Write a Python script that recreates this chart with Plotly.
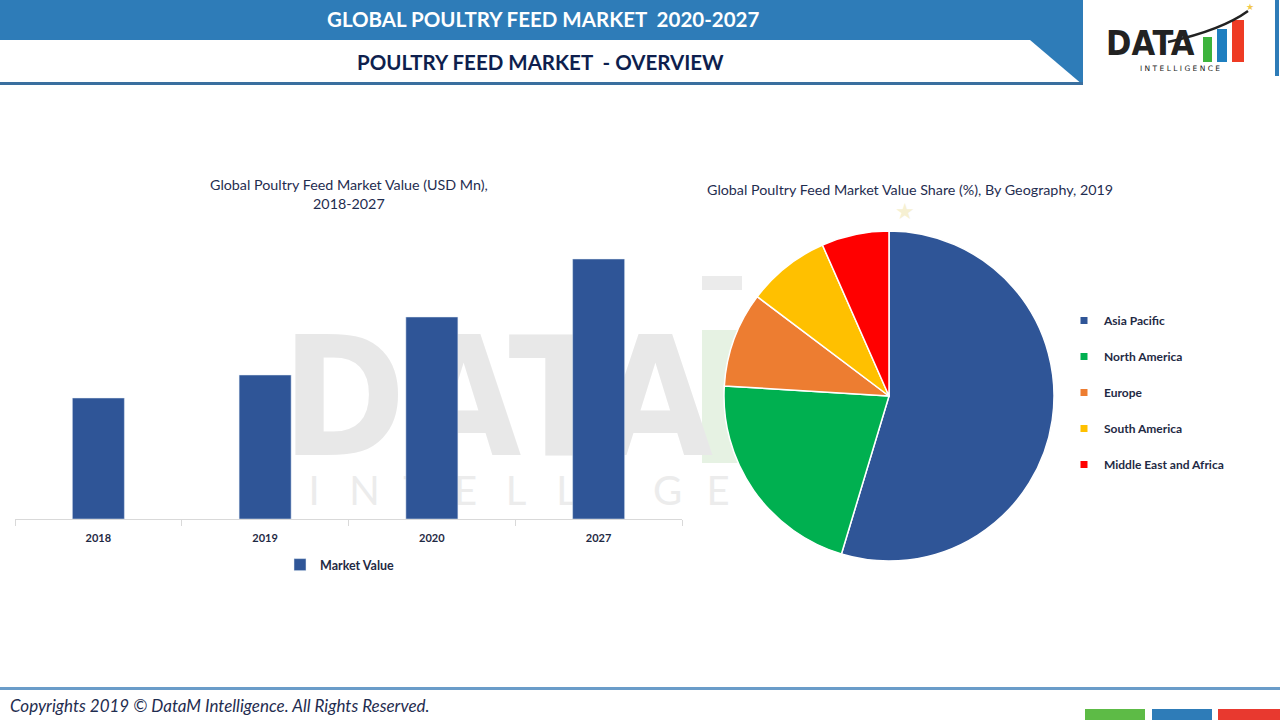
import plotly.graph_objects as go

W, H = 1280, 720

# bar chart data (relative market value)
years = ["2018", "2019", "2020", "2027"]
market_value = [121, 144, 202, 260]

# pie chart data (% share 2019)
regions = ["Asia Pacific", "North America", "Europe", "South America", "Middle East and Africa"]
shares = [54.6, 21.3, 9.3, 8.1, 6.6]
region_colors = ["#2F5597", "#00B050", "#ED7D31", "#FFC000", "#FF0000"]

NAVY = "#1F2D50"
BLUE = "#2E7CB8"
NARROW = "Liberation Sans Narrow, DejaVu Sans Condensed, Arial Narrow, Lato, sans-serif"


def px(x):
    return x / W


def py(y):
    return 1 - y / H


fig = go.Figure()

fig.add_trace(go.Bar(
    x=years, y=market_value, name="Market Value",
    marker_color="#2F5597", legend="legend",
))

fig.add_trace(go.Pie(
    labels=regions, values=shares, sort=False, direction="clockwise", rotation=0,
    marker=dict(colors=region_colors, line=dict(color="white", width=1.5)),
    textinfo="none", showlegend=False, hoverinfo="label+percent",
    domain=dict(x=[px(724), px(1054)], y=[py(561), py(231)]),
))

# legend entries for the pie
for name, col in zip(regions, region_colors):
    fig.add_trace(go.Scatter(
        x=[None], y=[None], mode="markers", name=name, legend="legend2",
        legendgroup=name, marker=dict(symbol="square", size=7, color=col),
    ))

shapes = []
# header
shapes.append(dict(type="rect", x0=px(0), x1=px(1083), y0=py(40), y1=py(0),
                   fillcolor=BLUE, line_width=0))
shapes.append(dict(type="path",
                   path=f"M {px(1030)},{py(40)} L {px(1083)},{py(40)} L {px(1083)},{py(85)} Z",
                   fillcolor=BLUE, line_width=0))
shapes.append(dict(type="rect", x0=px(0), x1=px(1083), y0=py(85), y1=py(82),
                   fillcolor="#3A6F9F", line_width=0))
shapes.append(dict(type="rect", x0=px(1275), x1=px(1279), y0=py(76), y1=py(0),
                   fillcolor=BLUE, line_width=0))
# logo bars and swoosh
shapes.append(dict(type="rect", x0=px(1203), x1=px(1212), y0=py(62), y1=py(37),
                   fillcolor="#3CB33C", line_width=0))
shapes.append(dict(type="rect", x0=px(1217), x1=px(1227), y0=py(62), y1=py(29),
                   fillcolor="#1F7FC0", line_width=0))
shapes.append(dict(type="rect", x0=px(1232), x1=px(1244), y0=py(62), y1=py(20),
                   fillcolor="#EE3B24", line_width=0))
shapes.append(dict(type="path",
                   path=f"M {px(1168)},{py(42)} Q {px(1222)},{py(30)} {px(1248)},{py(11)}",
                   line=dict(color="#222222", width=2.5)))
# footer
shapes.append(dict(type="rect", x0=px(0), x1=px(1280), y0=py(690), y1=py(687),
                   fillcolor="#6A9CC9", line_width=0))
for x0, x1, c in [(1085, 1145, "#5DBB46"), (1152, 1212, BLUE), (1218, 1280, "#E8392F")]:
    shapes.append(dict(type="rect", x0=px(x0), x1=px(x1), y0=py(720), y1=py(709),
                       fillcolor=c, line_width=0))
# watermark behind the bars
shapes.append(dict(type="rect", x0=px(702), x1=px(742), y0=py(463), y1=py(330),
                   layer="below", line_width=0, fillcolor="#E6F2E3"))
shapes.append(dict(type="rect", x0=px(702), x1=px(742), y0=py(290), y1=py(276),
                   layer="below", line_width=0, fillcolor="#EBEBEB"))
shapes.append(dict(type="rect", x0=px(305), x1=px(690), y0=py(470), y1=py(300),
                   layer="below", line_width=0, fillcolor="rgba(0,0,0,0)",
                   label=dict(text="<b>DATA</b>", textposition="middle center",
                              font=dict(family=NARROW, size=166, color="#E8E8E8"))))
for i, letter in enumerate("INTELLIGE"):
    cx = 314 + 50.5 * i
    shapes.append(dict(type="rect", x0=px(cx - 20), x1=px(cx + 20), y0=py(508), y1=py(470),
                       layer="below", line_width=0, fillcolor="rgba(0,0,0,0)",
                       label=dict(text=letter, textposition="middle center",
                                  font=dict(family="Lato", size=40, color="#ECECEC"))))
for s in shapes:
    s.update(xref="paper", yref="paper")

ann = [
    dict(text="<b>GLOBAL POULTRY FEED MARKET  2020-2027</b>", x=px(543), y=py(19),
         font=dict(family="Lato", size=20.5, color="white")),
    dict(text="<b>POULTRY FEED MARKET  - OVERVIEW</b>", x=px(540), y=py(62),
         font=dict(family="Lato", size=20.5, color="#0E1F4E")),
    dict(text="<b>DATA</b>", x=px(1150), y=py(43),
         font=dict(family=NARROW, size=34, color="#222222")),
    dict(text="I N T E L L I G E N C E", x=px(1180), y=py(68),
         font=dict(family="DejaVu Sans", size=7.5, color="#222222")),
    dict(text="★", x=px(1250), y=py(7), font=dict(size=9, color="#F2C94C")),
    dict(text="Global Poultry Feed Market Value (USD Mn),<br>2018-2027", x=px(349), y=py(194),
         font=dict(family="Lato", size=14.3, color=NAVY)),
    dict(text="Global Poultry Feed Market Value Share (%), By Geography, 2019", x=px(910), y=py(190),
         font=dict(family="Lato", size=14.3, color=NAVY)),
    dict(text="★", x=px(905), y=py(210), font=dict(size=22, color="#F6F0D2")),
    dict(text="<i>Copyrights 2019 © DataM Intelligence. All Rights Reserved.</i>", x=px(8), y=py(705),
         xanchor="left", font=dict(family="Lato", size=17, color=NAVY)),
]
for a in ann:
    a.setdefault("xanchor", "center")
    a.update(xref="paper", yref="paper", yanchor="middle", showarrow=False)

fig.update_layout(
    width=W, height=H,
    margin=dict(l=0, r=0, t=0, b=0),
    paper_bgcolor="white", plot_bgcolor="rgba(0,0,0,0)",
    shapes=shapes, annotations=ann,
    bargap=0.688,
    xaxis=dict(domain=[px(15), px(682)], range=[-0.5, 3.5], showline=True, linecolor="#D9D9D9",
               linewidth=1, ticks="outside", tickson="boundaries", ticklen=6, tickcolor="#D9D9D9",
               ticklabelstandoff=9,
               tickfont=dict(family="Lato", size=11, color="#1F2A44", weight="bold"),
               showgrid=False, fixedrange=True),
    yaxis=dict(domain=[py(519), py(230)], range=[0, 289], visible=False, fixedrange=True),
    legend=dict(orientation="h", x=px(280), y=py(565), xanchor="left", yanchor="middle",
                font=dict(family="Lato", size=12.5, color="#1F2A44", weight="bold"),
                bgcolor="rgba(0,0,0,0)"),
    legend2=dict(orientation="v", x=px(1064), y=py(306), xanchor="left", yanchor="top",
                 tracegroupgap=17,
                 font=dict(family="Lato", size=12, color="#1F2A44", weight="bold"),
                 bgcolor="rgba(0,0,0,0)"),
    font=dict(family="Lato"),
)

fig.write_html("out.html", config={"displayModeBar": False},
               post_script="document.body.style.margin='0';")
